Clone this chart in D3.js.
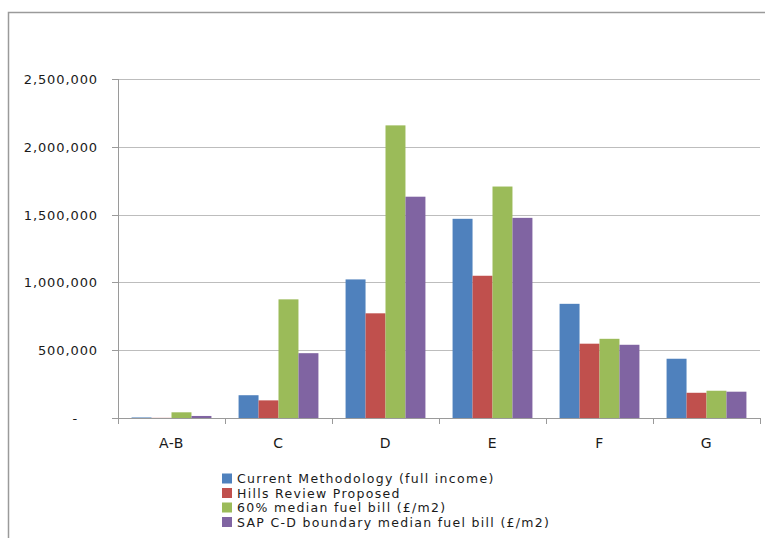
<!DOCTYPE html>
<html>
<head>
<meta charset="utf-8">
<script src="https://cdn.jsdelivr.net/npm/d3@7"></script>
<style>
  body { margin: 0; background: #fff; }
  text { font-family: "DejaVu Sans", sans-serif; fill: #1a1a1a; }
</style>
</head>
<body>
<div class="chart"></div>
<script>
var bands = ["A-B", "C", "D", "E", "F", "G"];
var seriesNames = [
  "Current Methodology (full income)",
  "Hills Review Proposed",
  "60% median fuel bill (£/m2)",
  "SAP C-D boundary median fuel bill (£/m2)"
];
var seriesColors = ["#4f81bd", "#c0504d", "#9bbb59", "#8064a2"];

var currentMethod = [4000, 168000, 1022000, 1469000, 842000, 437000];
var hillsReview   = [1000, 130000, 772000, 1049000, 548000, 186000];
var medianBill    = [42000, 875000, 2158000, 1707000, 584000, 201000];
var sapBoundary   = [15000, 478000, 1632000, 1476000, 540000, 194000];
var yTicks = [0, 500000, 1000000, 1500000, 2000000, 2500000];

var allSeries = [currentMethod, hillsReview, medianBill, sapBoundary];

var svg = d3.select(".chart")
  .append("svg")
    .attr("width", 765)
    .attr("height", 538);

// outer chart border (runs off the right and bottom edges)
svg.append("rect")
  .attr("x", 8.5)
  .attr("y", 12.5)
  .attr("width", 800)
  .attr("height", 600)
  .attr("fill", "none")
  .attr("stroke", "#9a9a9a")
  .attr("stroke-width", 1.5);

var x0 = d3.scaleBand()
  .domain(bands)
  .range([118, 760]);

var x1 = d3.scaleBand()
  .domain(d3.range(seriesNames.length))
  .range([0, x0.bandwidth()])
  .paddingOuter(0.68);

var y = d3.scaleLinear()
  .domain([0, 2500000])
  .range([418, 79]);

// gridlines
svg.selectAll(".grid")
  .data(yTicks.filter(function(d) { return d > 0; }))
  .enter().append("line")
    .attr("x1", 118)
    .attr("x2", 760)
    .attr("y1", function(d) { return Math.round(y(d)) + 0.5; })
    .attr("y2", function(d) { return Math.round(y(d)) + 0.5; })
    .attr("stroke", "#bdbdbd")
    .attr("stroke-width", 1.2);

// bars
allSeries.forEach(function(vals, si) {
  svg.selectAll(".bar" + si)
    .data(vals)
    .enter().append("rect")
      .attr("x", function(d, i) { return x0(bands[i]) + x1(si); })
      .attr("width", x1.bandwidth())
      .attr("y", function(d) { return y(d); })
      .attr("height", function(d) { return y(0) - y(d); })
      .attr("fill", seriesColors[si]);
});

// y axis
svg.append("line")
  .attr("x1", 118.5).attr("x2", 118.5)
  .attr("y1", y(2500000)).attr("y2", y(0))
  .attr("stroke", "#9a9a9a");

svg.selectAll(".ytick")
  .data(yTicks)
  .enter().append("line")
    .attr("x1", 112)
    .attr("x2", 118)
    .attr("y1", function(d) { return Math.round(y(d)) + 0.5; })
    .attr("y2", function(d) { return Math.round(y(d)) + 0.5; })
    .attr("stroke", "#9a9a9a");

svg.selectAll(".ylabel")
  .data(yTicks)
  .enter().append("text")
    .attr("x", function(d) { return d === 0 ? 78 : 98; })
    .attr("y", function(d) { return y(d) + 5; })
    .attr("text-anchor", "end")
    .style("font-size", "13px")
    .style("letter-spacing", "0.9px")
    .text(function(d) { return d === 0 ? "-" : d3.format(",")(d); });

// x axis
svg.append("line")
  .attr("x1", 112).attr("x2", 760)
  .attr("y1", 418.5).attr("y2", 418.5)
  .attr("stroke", "#9a9a9a")
  .attr("stroke-width", 1.2);

var boundaries = bands.map(function(b) { return x0(b); }).concat([x0.range()[1]]);
svg.selectAll(".xtick")
  .data(boundaries)
  .enter().append("line")
    .attr("x1", function(d) { return Math.round(d) + 0.5; })
    .attr("x2", function(d) { return Math.round(d) + 0.5; })
    .attr("y1", 418)
    .attr("y2", 424)
    .attr("stroke", "#9a9a9a");

svg.selectAll(".xlabel")
  .data(bands)
  .enter().append("text")
    .attr("x", function(d) { return x0(d) + x0.bandwidth() / 2; })
    .attr("y", 448)
    .attr("text-anchor", "middle")
    .style("font-size", "14px")
    .style("letter-spacing", "0.5px")
    .text(function(d) { return d; });

// legend
var legend = svg.selectAll(".legend")
  .data(seriesNames)
  .enter().append("g")
    .attr("transform", function(d, i) { return "translate(222," + (478.5 + i * 14.5) + ")"; });

legend.append("rect")
  .attr("x", 0)
  .attr("y", -5)
  .attr("width", 10)
  .attr("height", 10)
  .attr("fill", function(d, i) { return seriesColors[i]; });

legend.append("text")
  .attr("x", 15)
  .attr("y", 4.5)
  .style("font-size", "12.5px")
  .style("letter-spacing", "1.3px")
  .text(function(d) { return d; });
</script>
</body>
</html>
